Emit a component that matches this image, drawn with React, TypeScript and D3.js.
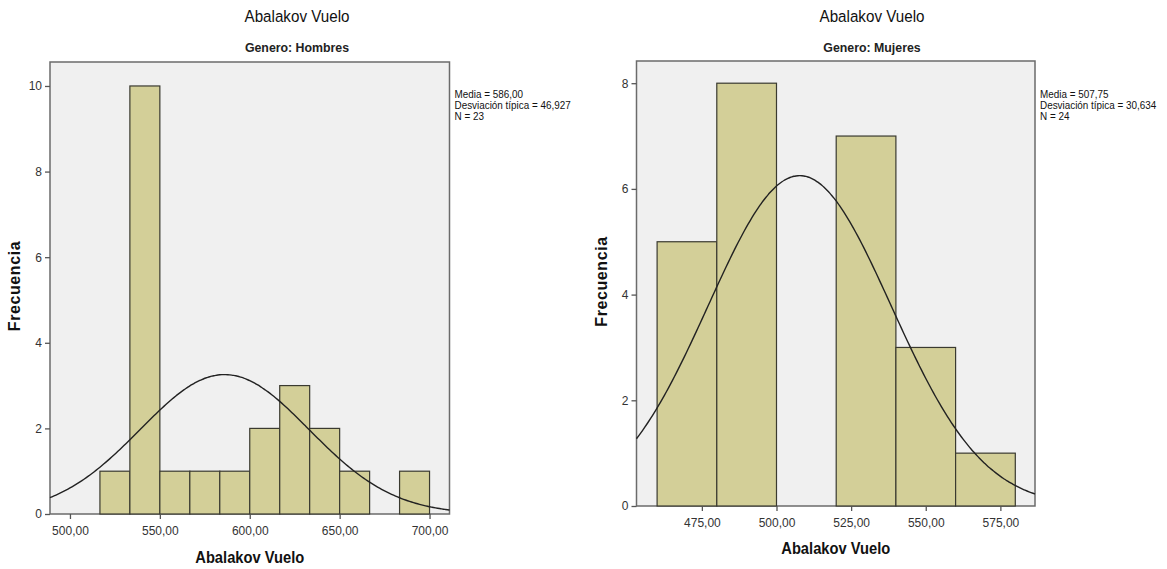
import React, { useRef, useEffect } from "react";
import * as d3 from "d3";

// Hombres: bins of width 16.67 from 516.67 to 700
const hombresEdges = [516.67, 533.33, 550, 566.67, 583.33, 600, 616.67, 633.33, 650, 666.67, 683.33, 700];
const hombresCounts = [1, 10, 1, 1, 1, 2, 3, 2, 1, 0, 1];
const hombresTicksX = [500, 550, 600, 650, 700];
const hombresTicksY = [0, 2, 4, 6, 8, 10];
const hombresStats = { mean: 586.0, sd: 46.927, n: 23 };
const hombresLegend = ["Media = 586,00", "Desviación típica = 46,927", "N = 23"];

// Mujeres: bins of width 20 from 460 to 580
const mujeresEdges = [460, 480, 500, 520, 540, 560, 580];
const mujeresCounts = [5, 8, 0, 7, 3, 1];
const mujeresTicksX = [475, 500, 525, 550, 575];
const mujeresTicksY = [0, 2, 4, 6, 8];
const mujeresStats = { mean: 507.75, sd: 30.634, n: 24 };
const mujeresLegend = ["Media = 507,75", "Desviación típica = 30,634", "N = 24"];

const W = 1167;
const H = 569;
const FONT = "'Liberation Sans', Arial, sans-serif";

type Panel = {
  subtitle: string;
  edges: number[];
  counts: number[];
  ticksX: number[];
  ticksY: number[];
  stats: { mean: number; sd: number; n: number };
  legend: string[];
  box: { x0: number; x1: number; y0: number; y1: number };
  xDomain: [number, number];
  yMax: number;
  titleX: number;
};

const panels: Panel[] = [
  {
    subtitle: "Genero: Hombres",
    edges: hombresEdges,
    counts: hombresCounts,
    ticksX: hombresTicksX,
    ticksY: hombresTicksY,
    stats: hombresStats,
    legend: hombresLegend,
    box: { x0: 50, x1: 449.5, y0: 62, y1: 514 },
    xDomain: [488.9, 711.1],
    yMax: 10.56,
    titleX: 297,
  },
  {
    subtitle: "Genero: Mujeres",
    edges: mujeresEdges,
    counts: mujeresCounts,
    ticksX: mujeresTicksX,
    ticksY: mujeresTicksY,
    stats: mujeresStats,
    legend: mujeresLegend,
    box: { x0: 636.5, x1: 1035, y0: 61, y1: 506 },
    xDomain: [453.1, 586.6],
    yMax: 8.42,
    titleX: 872,
  },
];

const App = () => {
  const svgRef = useRef<SVGSVGElement>(null);

  useEffect(() => {
    const svg = d3.select(svgRef.current);
    svg.selectAll("*").remove();
    svg.append("rect").attr("width", W).attr("height", H).attr("fill", "#fff");

    panels.forEach((p, i) => {
      const { box } = p;
      const x = d3.scaleLinear().domain(p.xDomain).range([box.x0, box.x1]);
      const y = d3.scaleLinear().domain([0, p.yMax]).range([box.y1, box.y0]);
      const g = svg.append("g");
      const cx = (box.x0 + box.x1) / 2;

      // titles
      g.append("text")
        .attr("transform", `translate(${p.titleX},22) scale(0.95,1.05)`)
        .attr("text-anchor", "middle")
        .style("font-family", FONT)
        .style("font-size", "16px")
        .attr("fill", "#111")
        .text("Abalakov Vuelo");
      g.append("text")
        .attr("transform", `translate(${p.titleX},52) scale(0.95,1.05)`)
        .attr("text-anchor", "middle")
        .style("font-family", FONT)
        .style("font-size", "13px")
        .style("font-weight", "bold")
        .attr("fill", "#222")
        .text(p.subtitle);

      // plot background
      g.append("rect")
        .attr("x", box.x0)
        .attr("y", box.y0)
        .attr("width", box.x1 - box.x0)
        .attr("height", box.y1 - box.y0)
        .attr("fill", "#f0f0f0")
        .attr("stroke", "#6b6b6b")
        .attr("stroke-width", 1.5);

      // bars
      const bins = p.counts.map((c, k) => ({ a: p.edges[k], b: p.edges[k + 1], c }));
      g.selectAll(".bar")
        .data(bins.filter((d) => d.c > 0))
        .enter()
        .append("rect")
        .attr("x", (d) => x(d.a))
        .attr("y", (d) => y(d.c))
        .attr("width", (d) => x(d.b) - x(d.a))
        .attr("height", (d) => y(0) - y(d.c))
        .attr("fill", "#d3cf98")
        .attr("stroke", "#3a3a30")
        .attr("stroke-width", 1.2);

      // normal curve
      const bw = p.edges[1] - p.edges[0];
      const { mean, sd, n } = p.stats;
      const pts = d3.range(p.xDomain[0], p.xDomain[1] + 0.01, (p.xDomain[1] - p.xDomain[0]) / 200).map((v) => [
        v,
        (n * bw) / (sd * Math.sqrt(2 * Math.PI)) * Math.exp(-0.5 * ((v - mean) / sd) ** 2),
      ]);
      g.append("path")
        .datum(pts)
        .attr("fill", "none")
        .attr("stroke", "#222")
        .attr("stroke-width", 1.4)
        .attr(
          "d",
          d3
            .line<number[]>()
            .x((d) => x(d[0]))
            .y((d) => y(d[1]))
            .curve(d3.curveBasis)
        );

      // axes
      const xAxis = g
        .append("g")
        .attr("transform", `translate(0,${box.y1})`)
        .call(
          d3
            .axisBottom(x)
            .tickValues(p.ticksX)
            .tickSize(5)
            .tickFormat((d) => d3.format(".2f")(d as number).replace(".", ","))
        );
      const yAxis = g
        .append("g")
        .attr("transform", `translate(${box.x0},0)`)
        .call(d3.axisLeft(y).tickValues(p.ticksY).tickSize(5).tickFormat(d3.format("d")));
      [xAxis, yAxis].forEach((ax) => {
        ax.select(".domain").remove();
        ax.selectAll("line").attr("stroke", "#555").attr("stroke-width", 1.3);
        ax.selectAll("text")
          .style("font-family", FONT)
          .style("font-size", "12px")
          .attr("fill", "#333");
      });
      xAxis.selectAll("text").attr("dy", "1.1em");

      // axis titles
      g.append("text")
        .attr("transform", `translate(${cx},${box.y1 + (i === 0 ? 49 : 48)}) scale(0.92,1.05)`)
        .attr("text-anchor", "middle")
        .style("font-family", FONT)
        .style("font-size", "16px")
        .style("font-weight", "bold")
        .attr("fill", "#111")
        .text("Abalakov Vuelo");
      g.append("text")
        .attr("transform", `translate(${box.x0 - 30},${(box.y0 + box.y1) / 2 - 2}) rotate(-90)`)
        .attr("text-anchor", "middle")
        .style("font-family", FONT)
        .style("font-size", "16px")
        .style("font-weight", "bold")
        .style("letter-spacing", "0.6px")
        .attr("fill", "#111")
        .text("Frecuencia");

      // legend
      g.selectAll(".leg")
        .data(p.legend)
        .enter()
        .append("text")
        .attr("transform", (d, k) => `translate(${box.x1 + 5},${98 + k * 11}) scale(0.9,1)`)
        .style("font-family", FONT)
        .style("font-size", "11px")
        .attr("fill", "#111")
        .text((d) => d);
    });
  }, []);

  return (
    <svg
      ref={svgRef}
      width={W}
      height={H}
      style={{ position: "absolute", left: 0, top: 0 }}
    ></svg>
  );
};

export default App;
